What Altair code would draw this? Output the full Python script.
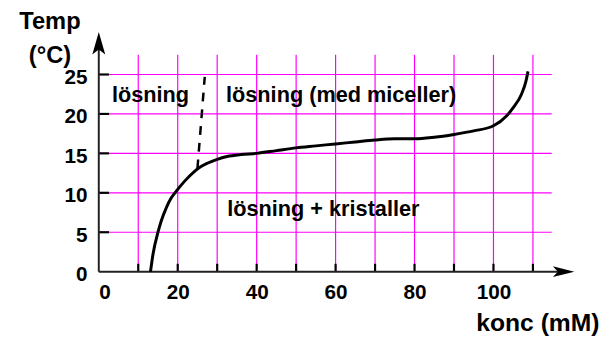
import altair as alt
import pandas as pd

# main phase boundary curve (konc in mM, temperature in °C)
curve_x = [13.1, 13.75, 15.0, 15.8, 17.1, 18.3, 19.4, 21.7, 24.2, 25.8, 27.5, 30.0, 32.5,
           36.0, 40.0, 45.0, 50.0, 55.0, 60.0, 65.0, 70.0, 75.0, 80.0, 85.0, 90.0, 95.0,
           100.0, 103.3, 105.0, 107.1, 108.2, 108.75]
curve_y = [0.0, 2.25, 5.0, 6.4, 8.1, 9.3, 10.05, 11.45, 12.7, 13.3, 13.75, 14.25, 14.6,
           14.85, 15.0, 15.35, 15.7, 15.95, 16.2, 16.45, 16.7, 16.85, 16.85, 17.05, 17.4,
           17.85, 18.5, 19.75, 20.8, 22.5, 24.1, 25.4]

# dashed boundary (CMC)
dash_x = [25.0, 26.85]
dash_y = [13.1, 24.7]

# region labels
label_text = ["lösning", "lösning (med miceller)", "lösning + kristaller"]
label_x = [13.1, 61.4, 56.9]
label_y = [21.45, 21.45, 7.05]

# grid / ticks / tick labels
x_grid = [10, 20, 30, 40, 50, 60, 70, 80, 90, 100, 110]
y_grid = [5, 10, 15, 20, 25]
x_labels = [0, 20, 40, 60, 80, 100]
y_labels = [0, 5, 10, 15, 20, 25]

X_MAX = 120.5
Y_MAX = 30.4
GRID_TOP = 27.5
GRID_RIGHT = 114.75

FONT = "Liberation Sans"

xs = alt.Scale(domain=[0, X_MAX], nice=False, zero=False)
ys = alt.Scale(domain=[0, Y_MAX], nice=False, zero=False)

x_axis = alt.Axis(values=x_labels, grid=False, ticks=False, domain=False,
                  labelFontSize=21, labelFontWeight="bold", labelFont=FONT,
                  labelColor="black", labelPadding=10, labelAngle=0,
                  title="konc (mM)", titleFontSize=25, titleFontWeight="bold",
                  titleFont=FONT, titleColor="black", titleAlign="right",
                  titleAnchor="start", titleX=507, titleY=60, titleBaseline="alphabetic")
y_axis = alt.Axis(values=y_labels, grid=False, ticks=False, domain=False,
                  labelFontSize=21, labelFontWeight="bold", labelFont=FONT,
                  labelColor="black", labelPadding=12, labelBaseline="middle",
                  labelOffset=3,
                  title=["Temp", "(°C)"], titleFontSize=24, titleFontWeight="bold",
                  titleFont=FONT, titleColor="black", titleAngle=0, titleAlign="center",
                  titleX=-50, titleY=-3, titleBaseline="alphabetic", titleLineHeight=34)

df_curve = pd.DataFrame({"x": curve_x, "y": curve_y})
df_dash = pd.DataFrame({"x": dash_x, "y": dash_y})
df_lab = pd.DataFrame({"t": label_text, "x": label_x, "y": label_y})
df_vgrid = pd.DataFrame({"x": x_grid, "y0": [0] * len(x_grid), "y1": [GRID_TOP] * len(x_grid),
                         "t1": [1.0] * len(x_grid)})
df_hgrid = pd.DataFrame({"y": y_grid, "x0": [0] * len(y_grid), "x1": [GRID_RIGHT] * len(y_grid),
                         "t1": [2.6] * len(y_grid)})
df_xaxis = pd.DataFrame({"x0": [0], "x1": [X_MAX - 1.5], "y": [0]})
df_yaxis = pd.DataFrame({"y0": [0], "y1": [Y_MAX - 1.0], "x": [0]})
df_xarrow = pd.DataFrame({"x": [X_MAX], "y": [0]})
df_yarrow = pd.DataFrame({"x": [0], "y": [Y_MAX]})

GRID_COLOR = "#ff00ff"

vgrid = alt.Chart(df_vgrid).mark_rule(color=GRID_COLOR, strokeWidth=1.2).encode(
    x=alt.X("x:Q", scale=xs, axis=x_axis),
    y=alt.Y("y0:Q", scale=ys, axis=y_axis), y2="y1:Q")
hgrid = alt.Chart(df_hgrid).mark_rule(color=GRID_COLOR, strokeWidth=1.2).encode(
    x=alt.X("x0:Q", scale=xs, axis=x_axis), x2="x1:Q",
    y=alt.Y("y:Q", scale=ys, axis=y_axis))

xticks = alt.Chart(df_vgrid).mark_rule(color="black", strokeWidth=2.2).encode(
    x=alt.X("x:Q", scale=xs, axis=x_axis),
    y=alt.Y("y0:Q", scale=ys, axis=y_axis), y2="t1:Q")
yticks = alt.Chart(df_hgrid).mark_rule(color="black", strokeWidth=2.2).encode(
    x=alt.X("x0:Q", scale=xs, axis=x_axis), x2="t1:Q",
    y=alt.Y("y:Q", scale=ys, axis=y_axis))

xaxis_line = alt.Chart(df_xaxis).mark_rule(color="#222222", strokeWidth=2).encode(
    x=alt.X("x0:Q", scale=xs, axis=x_axis), x2="x1:Q",
    y=alt.Y("y:Q", scale=ys, axis=y_axis))
yaxis_line = alt.Chart(df_yaxis).mark_rule(color="#222222", strokeWidth=2).encode(
    x=alt.X("x:Q", scale=xs, axis=x_axis),
    y=alt.Y("y0:Q", scale=ys, axis=y_axis), y2="y1:Q")

xarrow = alt.Chart(df_xarrow).mark_point(
    shape="M0,0 L-1.9,-0.47 L-1.45,0 L-1.9,0.47 Z", filled=True, fill="black",
    strokeWidth=0, size=529, opacity=1).encode(
    x=alt.X("x:Q", scale=xs, axis=x_axis), y=alt.Y("y:Q", scale=ys, axis=y_axis))
yarrow = alt.Chart(df_yarrow).mark_point(
    shape="M0,0 L-0.57,2 L0,1.55 L0.57,2 Z", filled=True, fill="black",
    strokeWidth=0, size=529, opacity=1).encode(
    x=alt.X("x:Q", scale=xs, axis=x_axis), y=alt.Y("y:Q", scale=ys, axis=y_axis))

curve = alt.Chart(df_curve).mark_line(color="black", strokeWidth=3, interpolate="monotone").encode(
    x=alt.X("x:Q", scale=xs, axis=x_axis), y=alt.Y("y:Q", scale=ys, axis=y_axis))
dash = alt.Chart(df_dash).mark_line(color="black", strokeWidth=2.5, strokeDash=[9, 8]).encode(
    x=alt.X("x:Q", scale=xs, axis=x_axis), y=alt.Y("y:Q", scale=ys, axis=y_axis))

labels = alt.Chart(df_lab).mark_text(font=FONT, fontSize=22, fontWeight="bold",
                                     color="black", align="center",
                                     baseline="alphabetic").encode(
    x=alt.X("x:Q", scale=xs, axis=x_axis), y=alt.Y("y:Q", scale=ys, axis=y_axis),
    text="t:N")

chart = alt.layer(vgrid, hgrid, xticks, yticks, xaxis_line, yaxis_line,
                  xarrow, yarrow, curve, dash, labels).properties(
    width=482, height=243,
    autosize=alt.AutoSizeParams(type="none"),
    padding={"left": 92, "top": 22, "right": 29, "bottom": 66},
    background="white",
).configure_view(stroke=None)

chart.save("out.html", embed_options={"renderer": "svg", "actions": False})
